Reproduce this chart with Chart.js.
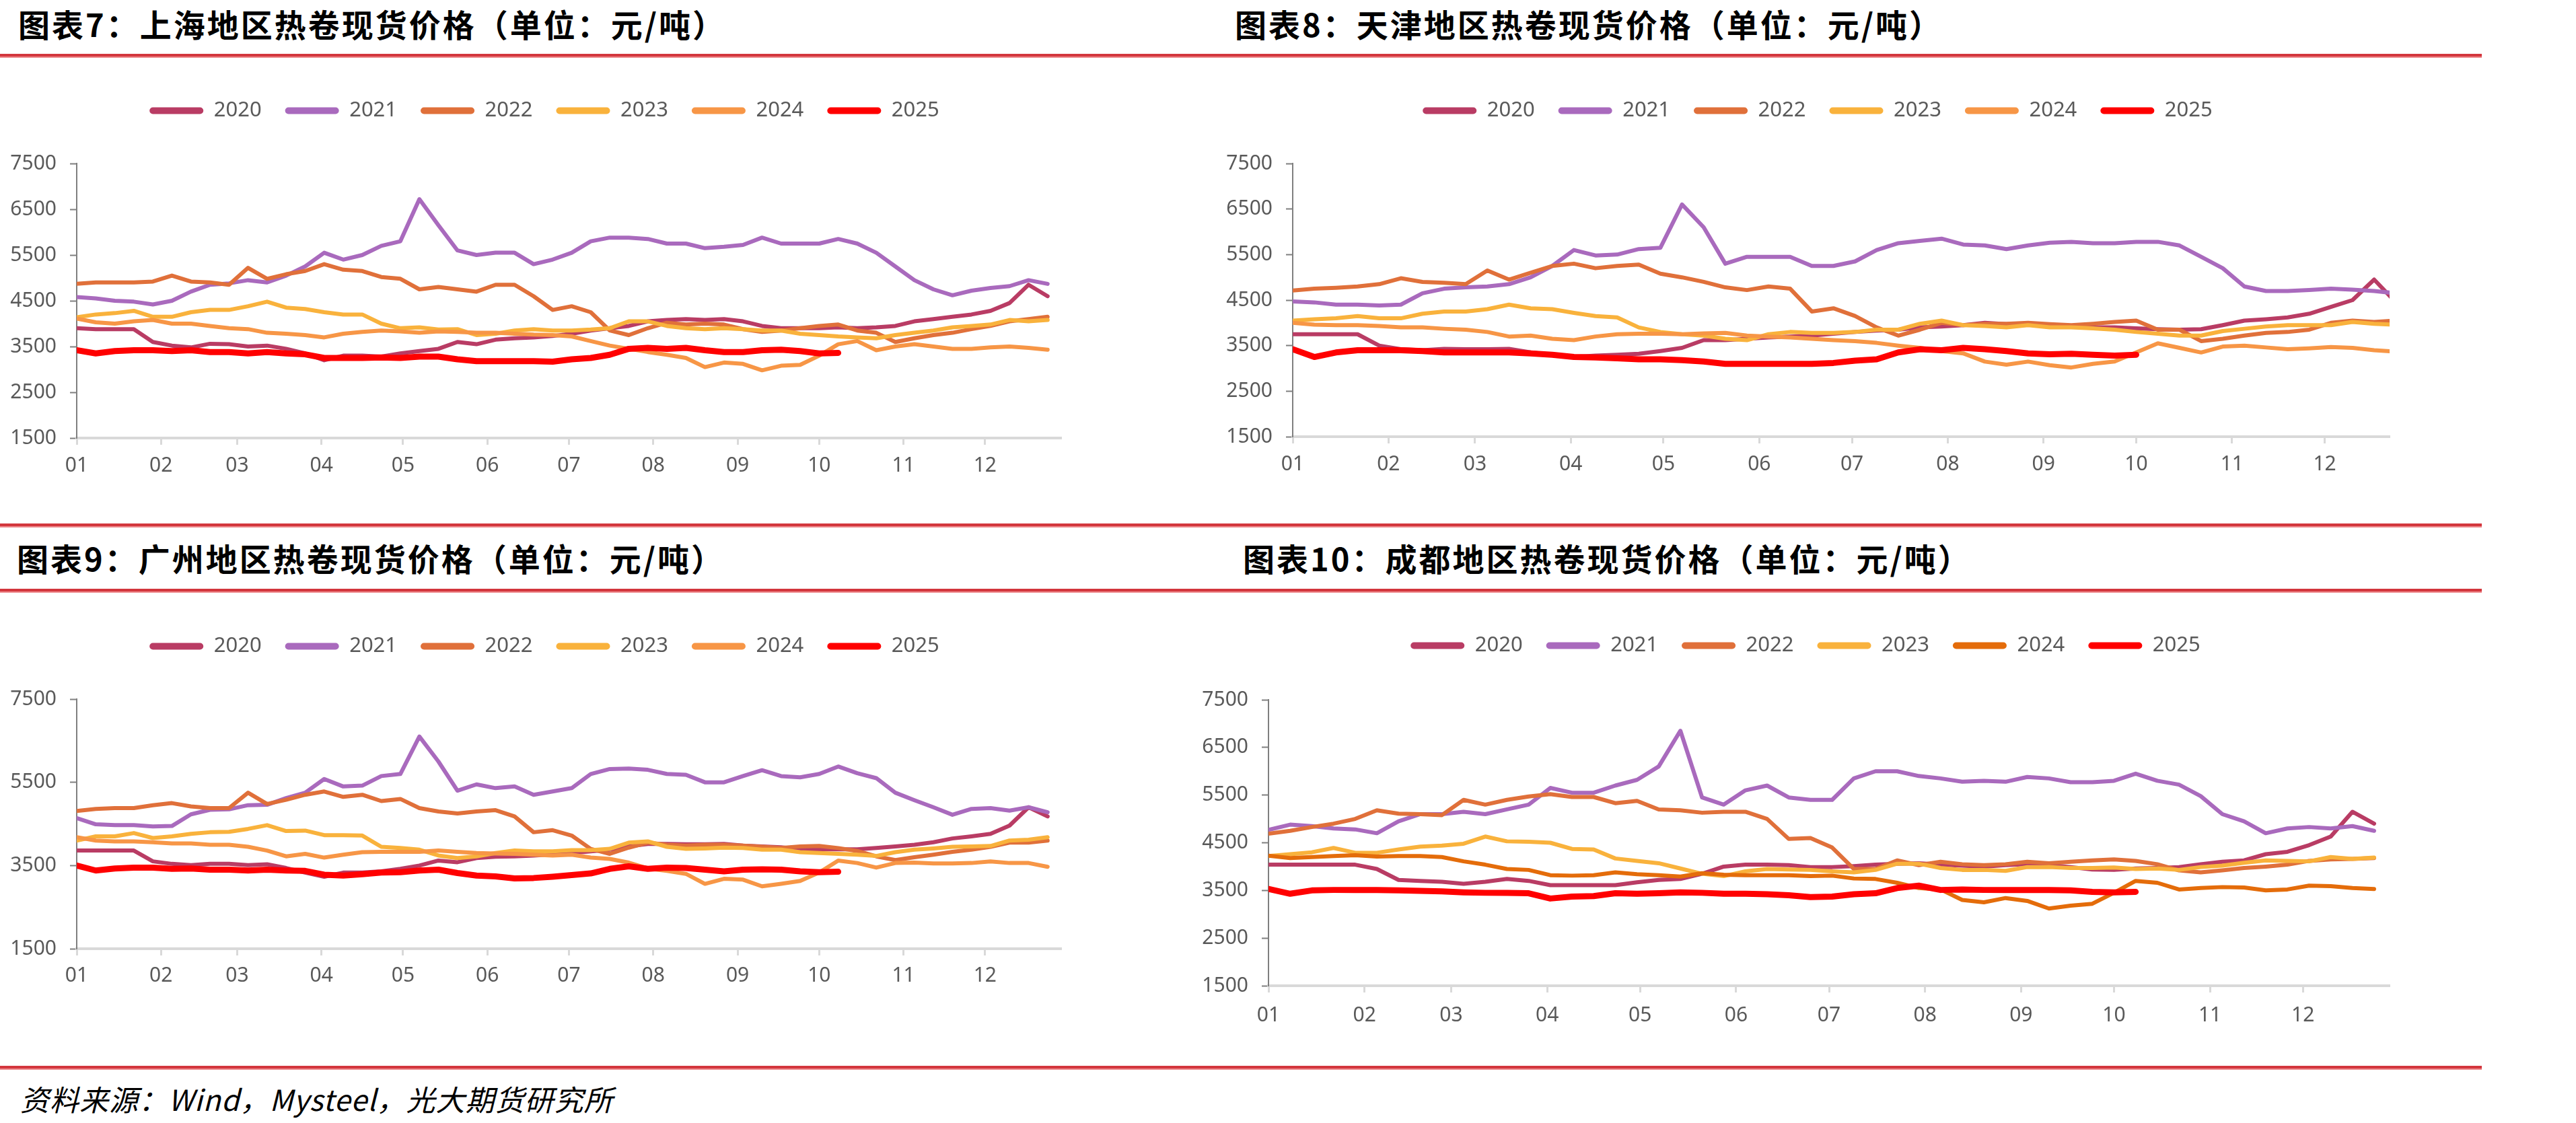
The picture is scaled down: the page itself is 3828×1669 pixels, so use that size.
<!DOCTYPE html>
<html>
<head>
<meta charset="utf-8">
<script src="https://cdn.jsdelivr.net/npm/chart.js@4.4.1/dist/chart.umd.min.js"></script>
<style>
  html, body { margin: 0; padding: 0; background: #fff; }
  body { width: 3828px; height: 1669px; position: relative; overflow: hidden; }
  .title { position: absolute; font-family: "Noto Sans CJK SC", sans-serif; font-weight: 700;
           font-size: 47px; line-height: 47px; letter-spacing: 3px; color: #000; white-space: nowrap; }
  .rule { position: absolute; left: 0; width: 3688px; height: 4px; background: #D3363D;
          border-bottom: 2px solid #EE8C8F; }
  .source { position: absolute; left: 30px; top: 1611px; font-family: "Noto Sans CJK SC", sans-serif;
            font-style: italic; font-size: 43px; line-height: 43px; letter-spacing: 1px; color: #000; white-space: nowrap; }
  canvas { position: absolute; }
</style>
</head>
<body>
<div class="title" style="left:27px;top:11px">图表7：上海地区热卷现货价格（单位：元/吨）</div>
<div class="title" style="left:1835px;top:11px">图表8：天津地区热卷现货价格（单位：元/吨）</div>
<div class="rule" style="top:80px"></div>
<div class="rule" style="top:778px"></div>
<div class="title" style="left:25px;top:805px">图表9：广州地区热卷现货价格（单位：元/吨）</div>
<div class="title" style="left:1847px;top:805px">图表10：成都地区热卷现货价格（单位：元/吨）</div>
<div class="rule" style="top:875px"></div>
<div class="rule" style="top:1584px"></div>
<div class="source">资料来源：Wind，Mysteel，光大期货研究所</div>

<canvas id="shanghai"></canvas>
<canvas id="tianjin"></canvas>
<canvas id="guangzhou"></canvas>
<canvas id="chengdu"></canvas>

<script>
// 每周一个点（一年中的第几天）
const days = [0,7,14,21,28,35,42,49,56,63,70,77,84,91,98,105,112,119,126,133,140,147,154,161,168,175,
  182,189,196,203,210,217,224,231,238,245,252,259,266,273,280,287,294,301,308,315,322,329,336,343,350,357];
const monthStarts = [0,31,59,90,120,151,181,212,243,273,304,334];
const monthLabels = ['01','02','03','04','05','06','07','08','09','10','11','12'];
const years = ['2020','2021','2022','2023','2024','2025'];

// 上海
const sh2020 = [3900,3880,3880,3880,3600,3520,3480,3560,3550,3500,3520,3450,3350,3200,3300,3300,3280,3350,3400,3450,
  3600,3550,3650,3680,3700,3730,3780,3850,3900,3950,4050,4080,4100,4080,4100,4050,3950,3900,3900,3900,
  3920,3900,3920,3950,4050,4100,4150,4200,4280,4450,4850,4600];
const sh2021 = [4580,4550,4500,4480,4420,4500,4700,4850,4880,4950,4900,5050,5250,5550,5400,5500,5700,5800,6720,6150,
  5600,5500,5550,5550,5300,5400,5550,5800,5880,5880,5850,5750,5750,5650,5680,5720,5880,5750,5750,5750,
  5850,5750,5550,5250,4950,4750,4620,4720,4780,4820,4950,4870];
const sh2022 = [4870,4900,4900,4900,4920,5050,4920,4900,4850,5220,4980,5080,5150,5300,5180,5150,5020,4980,4750,4800,
  4750,4700,4850,4850,4600,4300,4380,4250,3850,3750,3900,4020,3980,4000,3980,3880,3820,3850,3900,3950,
  3980,3850,3800,3600,3680,3750,3800,3880,3950,4050,4100,4150];
const sh2023 = [4140,4200,4230,4280,4150,4150,4250,4300,4300,4380,4480,4350,4320,4250,4200,4200,4000,3900,3920,3870,
  3880,3750,3780,3850,3880,3850,3850,3870,3900,4050,4050,3950,3900,3880,3900,3880,3850,3850,3780,3750,
  3720,3700,3680,3750,3800,3850,3920,3950,3980,4080,4050,4080];
const sh2024 = [4110,4030,4000,4050,4080,4000,4000,3950,3900,3880,3800,3780,3750,3700,3780,3820,3850,3830,3800,3830,
  3820,3800,3800,3780,3760,3750,3720,3620,3520,3450,3380,3320,3250,3050,3150,3120,2980,3080,3100,3300,
  3550,3620,3420,3500,3550,3500,3450,3450,3480,3500,3470,3430];
const sh2025 = [3420,3350,3400,3420,3420,3400,3420,3380,3380,3350,3380,3350,3330,3250,3250,3250,3260,3250,3280,3280,
  3220,3180,3180,3180,3180,3170,3220,3250,3320,3450,3470,3450,3470,3420,3380,3380,3420,3430,3400,3350,3360];

// 天津
const tj2020 = [3750,3750,3750,3750,3500,3420,3400,3430,3420,3420,3430,3350,3300,3250,3280,3300,3320,3380,3450,3620,
  3620,3650,3680,3700,3720,3760,3800,3830,3850,3900,3920,3950,4000,3970,3980,3950,3920,3900,3900,3880,
  3860,3850,3860,3950,4050,4080,4120,4200,4350,4500,4950,4450];
const tj2021 = [4470,4450,4400,4400,4380,4400,4650,4750,4780,4800,4850,5000,5250,5600,5480,5500,5620,5650,6600,6100,
  5300,5450,5450,5450,5250,5250,5350,5600,5750,5800,5850,5720,5700,5620,5700,5760,5780,5750,5750,5780,
  5780,5700,5450,5200,4800,4700,4700,4720,4750,4730,4700,4650];
const tj2022 = [4710,4750,4770,4800,4850,4980,4900,4880,4850,5150,4950,5100,5250,5300,5200,5250,5280,5080,5000,4900,
  4780,4720,4800,4750,4250,4320,4150,3900,3720,3850,4000,3950,3980,3980,4000,3970,3950,3980,4020,4050,
  3850,3850,3600,3650,3720,3780,3800,3850,4000,4050,4020,4050];
const tj2023 = [4050,4080,4100,4150,4100,4100,4200,4250,4250,4300,4400,4320,4300,4220,4150,4120,3900,3800,3750,3720,
  3650,3620,3750,3800,3780,3780,3800,3850,3850,3980,4050,3950,3930,3900,3950,3900,3900,3880,3850,3800,
  3760,3720,3720,3820,3870,3920,3950,3950,3950,4020,3980,3960];
const tj2024 = [4000,3960,3950,3950,3930,3900,3900,3870,3850,3800,3700,3720,3650,3620,3700,3750,3760,3760,3750,3770,
  3780,3720,3700,3680,3650,3620,3600,3560,3500,3450,3380,3330,3150,3080,3150,3070,3020,3100,3150,3350,
  3550,3450,3350,3480,3500,3460,3420,3440,3470,3450,3400,3370];
const tj2025 = [3420,3250,3350,3400,3400,3400,3380,3350,3350,3350,3350,3330,3300,3250,3240,3220,3200,3200,3180,3150,
  3100,3100,3100,3100,3100,3120,3170,3200,3350,3420,3400,3450,3420,3380,3330,3310,3320,3300,3280,3300];

// 广州
const gz2020 = [3860,3860,3860,3860,3600,3540,3510,3540,3540,3510,3530,3440,3330,3230,3330,3330,3360,3420,3500,3620,
  3580,3680,3710,3720,3740,3770,3800,3840,3880,3960,4020,4020,4010,4010,4020,3980,3960,3940,3890,3890,
  3890,3890,3920,3960,4000,4060,4150,4200,4260,4460,4900,4680];
const gz2021 = [4640,4490,4470,4470,4440,4450,4730,4840,4850,4950,4960,5120,5250,5580,5400,5420,5650,5700,6600,6000,
  5300,5450,5360,5400,5200,5280,5360,5700,5820,5830,5800,5700,5680,5500,5500,5650,5790,5650,5620,5700,
  5880,5720,5600,5250,5070,4900,4720,4860,4880,4820,4900,4780];
const gz2022 = [4810,4860,4880,4880,4950,5000,4920,4880,4880,5250,4980,5080,5200,5280,5150,5200,5050,5100,4880,4800,
  4750,4800,4830,4680,4300,4350,4220,3900,3780,3930,4050,4000,3980,4000,4000,3980,3950,3920,3960,3970,
  3920,3850,3720,3630,3700,3760,3830,3880,3950,4050,4050,4100];
const gz2023 = [4100,4200,4200,4280,4160,4200,4260,4300,4310,4380,4470,4330,4340,4230,4230,4220,3950,3920,3880,3740,
  3680,3720,3800,3860,3840,3840,3870,3870,3900,4050,4080,3950,3900,3910,3930,3920,3880,3880,3820,3800,
  3780,3760,3730,3820,3880,3910,3950,3960,3970,4100,4120,4180];
const gz2024 = [4180,4100,4080,4080,4060,4030,4030,4000,4000,3950,3860,3720,3780,3690,3760,3820,3830,3830,3830,3860,
  3830,3800,3790,3780,3760,3740,3760,3690,3660,3570,3430,3370,3300,3060,3180,3160,3000,3060,3130,3330,
  3620,3560,3450,3560,3570,3550,3550,3560,3600,3560,3560,3470];
const gz2025 = [3500,3380,3430,3450,3450,3420,3430,3400,3400,3380,3400,3380,3370,3280,3260,3290,3330,3340,3380,3400,
  3320,3260,3240,3190,3200,3230,3270,3310,3420,3480,3420,3450,3440,3400,3360,3400,3410,3400,3360,3340,3350];

// 成都
const cd2020 = [4040,4040,4040,4040,4040,3950,3720,3700,3680,3640,3680,3740,3700,3610,3610,3610,3610,3670,3720,3740,
  3850,4000,4040,4040,4030,3990,3990,4010,4040,4060,4070,4040,4020,4000,4030,4050,4030,3990,3940,3930,
  3960,3970,3990,4050,4100,4130,4260,4310,4450,4630,5150,4900];
const cd2021 = [4770,4880,4850,4800,4780,4700,4950,5100,5100,5150,5100,5200,5300,5650,5550,5550,5700,5820,6100,6850,
  5450,5300,5600,5700,5450,5400,5400,5850,6000,6000,5900,5850,5780,5800,5780,5880,5850,5770,5770,5800,
  5950,5800,5720,5480,5100,4950,4700,4800,4830,4800,4850,4750];
const cd2022 = [4690,4750,4830,4900,5000,5180,5110,5100,5080,5400,5300,5400,5470,5520,5460,5460,5330,5380,5200,5180,
  5130,5150,5150,5000,4580,4600,4400,3950,3950,4130,4030,4100,4050,4030,4050,4100,4070,4100,4130,4150,
  4120,4050,3920,3880,3920,3970,4000,4040,4120,4150,4160,4180];
const cd2023 = [4220,4260,4300,4390,4290,4290,4360,4420,4440,4480,4630,4530,4520,4500,4370,4360,4170,4120,4070,3960,
  3850,3800,3900,3950,3940,3930,3900,3880,3930,4060,4060,3970,3930,3930,3910,3990,3990,3970,3970,3980,
  3950,3960,3930,3990,4020,4080,4130,4120,4110,4200,4160,4190];
const cd2024 = [4230,4180,4200,4220,4240,4210,4220,4220,4200,4110,4040,3950,3930,3820,3810,3820,3880,3840,3820,3790,
  3860,3830,3820,3820,3820,3800,3810,3750,3740,3660,3550,3520,3300,3250,3340,3280,3120,3180,3220,3450,
  3700,3660,3520,3550,3570,3560,3500,3520,3600,3590,3550,3530];
const cd2025 = [3530,3430,3500,3510,3510,3510,3500,3490,3480,3460,3450,3450,3440,3330,3370,3380,3440,3430,3440,3460,
  3450,3430,3430,3420,3400,3360,3370,3420,3440,3550,3600,3510,3520,3510,3510,3510,3510,3500,3470,3460,3470];

const farben = ['#B93C64','#A96ABD','#E0703A','#F9B23C','#F79646','#FF0000'];
const farbenChengdu = ['#B93C64','#A96ABD','#E0703A','#F9B23C','#E46C0A','#FF0000'];

const textFarbe = '#595959';
const schrift = '"Noto Sans", "Liberation Sans", sans-serif';

// Legende ganz oben über die volle Canvas-Breite legen
const legendeOben = {
  id: 'legendeOben',
  afterLayout(chart) {
    const lg = chart.legend;
    lg.top = 0;
    lg.bottom = lg.height;
    lg.left = 0;
    lg.right = chart.width;
    lg.width = chart.width;
  }
};

function zeichne(id, box, reihen, cfg) {
  const canvas = document.getElementById(id);
  canvas.width = box.w;
  canvas.height = box.h;
  canvas.style.left = box.x + 'px';
  canvas.style.top = box.y + 'px';

  const datasets = reihen.map((werte, i) => ({
    label: years[i],
    data: werte.map((v, k) => ({ x: days[k], y: v })),
    borderColor: cfg.farben[i],
    backgroundColor: cfg.farben[i],
    borderWidth: i === 5 ? 9 : 6,
    pointRadius: 0,
    tension: 0,
    borderJoinStyle: 'round',
    borderCapStyle: 'round',
    order: 5 - i
  }));

  new Chart(canvas, {
    type: 'line',
    data: { datasets },
    options: {
      responsive: false,
      animation: false,
      devicePixelRatio: 1,
      layout: { padding: { top: cfg.padTop, right: cfg.padRight, left: 0, bottom: 0 } },
      plugins: {
        tooltip: { enabled: false },
        legend: {
          position: 'top',
          labels: {
            boxWidth: 80,
            boxHeight: 10,
            padding: 35,
            color: textFarbe,
            font: { family: schrift, size: 31 },
            generateLabels: (chart) => chart.data.datasets.map((ds, i) => ({
              text: ds.label,
              fillStyle: ds.borderColor,
              strokeStyle: ds.borderColor,
              lineWidth: 0,
              borderRadius: 5,
              fontColor: textFarbe,
              hidden: false,
              datasetIndex: i
            }))
          }
        }
      },
      scales: {
        x: {
          type: 'linear',
          min: 0,
          max: cfg.xMax,
          afterBuildTicks: (axis) => { axis.ticks = monthStarts.map(v => ({ value: v })); },
          afterFit: (axis) => { axis.height = cfg.xHeight; },
          ticks: {
            autoSkip: false,
            maxRotation: 0,
            padding: cfg.xPad,
            color: textFarbe,
            font: { family: schrift, size: 30 },
            callback: (v) => monthLabels[monthStarts.indexOf(v)]
          },
          grid: { drawOnChartArea: false, tickLength: 10, tickColor: '#D9D9D9', tickWidth: 3 },
          border: { color: '#D9D9D9', width: 4 }
        },
        y: {
          min: 1500,
          max: 7500,
          afterFit: (axis) => { axis.width = cfg.yWidth; },
          ticks: {
            stepSize: cfg.step,
            padding: 20,
            color: textFarbe,
            font: { family: schrift, size: 30 },
            callback: (v) => String(v)
          },
          grid: { drawOnChartArea: false, tickLength: 10, tickColor: '#7F7F7F', tickWidth: 2 },
          border: { color: '#7F7F7F', width: 2 }
        }
      }
    },
    plugins: [legendeOben]
  });
}

zeichne('shanghai', { x: 0, y: 114, w: 1618, h: 640 },
  [sh2020, sh2021, sh2022, sh2023, sh2024, sh2025],
  { farben, padTop: 53, padRight: 41, yWidth: 114, xHeight: 103, xPad: 13, xMax: 362, step: 1000 });

zeichne('tianjin', { x: 1800, y: 114, w: 1802, h: 640 },
  [tj2020, tj2021, tj2022, tj2023, tj2024, tj2025],
  { farben, padTop: 53, padRight: 51, yWidth: 121, xHeight: 105, xPad: 13, xMax: 355, step: 1000 });

zeichne('guangzhou', { x: 0, y: 910, w: 1618, h: 600 },
  [gz2020, gz2021, gz2022, gz2023, gz2024, gz2025],
  { farben, padTop: 53, padRight: 41, yWidth: 114, xHeight: 100, xPad: 12, xMax: 362, step: 2000 });

zeichne('chengdu', { x: 1770, y: 909, w: 1826, h: 640 },
  [cd2020, cd2021, cd2022, cd2023, cd2024, cd2025],
  { farben: farbenChengdu, padTop: 55, padRight: 45, yWidth: 115, xHeight: 84, xPad: 16, xMax: 362, step: 1000 });
</script>
</body>
</html>
